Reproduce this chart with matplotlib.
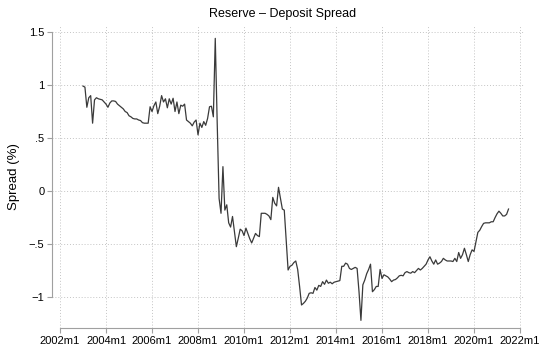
import numpy as np
import matplotlib
matplotlib.use("Agg")
import matplotlib.pyplot as plt

plt.rcParams['font.family'] = ['Liberation Sans', 'DejaVu Sans']

## monthly spread (%), 2003m1 .. 2021m7
y2003 = [0.99, 0.98, 0.79, 0.88, 0.90, 0.64, 0.86, 0.88, 0.87, 0.865, 0.86, 0.84]
y2004 = [0.82, 0.79, 0.83, 0.85, 0.85, 0.845, 0.82, 0.805, 0.79, 0.775, 0.75, 0.74]
y2005 = [0.71, 0.70, 0.685, 0.68, 0.68, 0.67, 0.665, 0.645, 0.64, 0.64, 0.64, 0.795]
y2006 = [0.75, 0.805, 0.84, 0.73, 0.80, 0.90, 0.84, 0.87, 0.785, 0.87, 0.82, 0.875]
y2007 = [0.75, 0.84, 0.73, 0.81, 0.80, 0.82, 0.67, 0.655, 0.64, 0.615, 0.65, 0.67]
y2008 = [0.53, 0.64, 0.60, 0.655, 0.62, 0.685, 0.795, 0.80, 0.70, 1.44, 0.65, -0.07]
y2009 = [-0.21, 0.23, -0.18, -0.13, -0.30, -0.34, -0.24, -0.38, -0.525, -0.445, -0.36, -0.375]
y2010 = [-0.42, -0.35, -0.40, -0.45, -0.49, -0.445, -0.40, -0.42, -0.43, -0.21, -0.21, -0.21]
y2011 = [-0.22, -0.235, -0.27, -0.06, -0.115, -0.14, 0.035, -0.07, -0.17, -0.18, -0.46, -0.745]
y2012 = [-0.71, -0.70, -0.675, -0.66, -0.74, -0.90, -1.075, -1.06, -1.04, -1.01, -0.965, -0.96]
y2013 = [-0.965, -0.91, -0.935, -0.89, -0.90, -0.855, -0.88, -0.84, -0.87, -0.86, -0.875, -0.86]
y2014 = [-0.855, -0.85, -0.845, -0.71, -0.71, -0.68, -0.69, -0.73, -0.74, -0.73, -0.72, -0.73]
y2015 = [-0.95, -1.22, -0.885, -0.84, -0.78, -0.74, -0.69, -0.95, -0.93, -0.90, -0.90, -0.74]
y2016 = [-0.825, -0.79, -0.80, -0.81, -0.83, -0.855, -0.84, -0.835, -0.82, -0.80, -0.795, -0.80]
y2017 = [-0.77, -0.76, -0.77, -0.775, -0.76, -0.77, -0.75, -0.73, -0.745, -0.73, -0.71, -0.69]
y2018 = [-0.65, -0.62, -0.66, -0.69, -0.65, -0.69, -0.68, -0.665, -0.635, -0.65, -0.66, -0.66]
y2019 = [-0.66, -0.665, -0.635, -0.665, -0.58, -0.635, -0.60, -0.54, -0.60, -0.665, -0.60, -0.555]
y2020 = [-0.57, -0.48, -0.39, -0.37, -0.335, -0.305, -0.30, -0.30, -0.30, -0.29, -0.29, -0.25]
y2021 = [-0.215, -0.19, -0.21, -0.235, -0.235, -0.22, -0.17]

spread = np.array(y2003 + y2004 + y2005 + y2006 + y2007 + y2008 + y2009 + y2010
                  + y2011 + y2012 + y2013 + y2014 + y2015 + y2016 + y2017
                  + y2018 + y2019 + y2020 + y2021)
t = 2003 + np.arange(len(spread)) / 12.0

xticks = list(range(2002, 2023, 2))
xlabels = ['%dm1' % yr for yr in xticks]
yticks = [1.5, 1, 0.5, 0, -0.5, -1]
ylabels = ['1.5', '1', '.5', '0', '\u2212.5', '\u22121']

fig = plt.figure(figsize=(5.39, 3.45), dpi=100)
ax = fig.add_axes([0.0965, 0.0493, 0.8757, 0.8782])

ax.plot(t, spread, color='#3a3a3a', lw=0.9)

ax.set_xlim(2002 - 8 / 23.0, 2022 + 4 / 23.0)
ax.set_ylim(-1.292, 1.566)

ax.set_xticks(xticks)
ax.set_xticklabels(xlabels)
ax.set_yticks(yticks)
ax.set_yticklabels(ylabels)

for s in ['top', 'right']:
    ax.spines[s].set_visible(False)
ax.spines['left'].set_bounds(-1, 1.5)
ax.spines['bottom'].set_bounds(2002, 2022)
for s in ['left', 'bottom']:
    ax.spines[s].set_color('#a0a0a0')
    ax.spines[s].set_linewidth(0.8)

ax.tick_params(axis='both', direction='out', length=3.5, width=0.8,
               color='#a0a0a0', labelsize=8, pad=2)
ax.grid(True, linestyle=(0, (1, 2)), color='#c4c4c4', lw=0.7)
ax.set_axisbelow(True)

ax.set_ylabel('Spread (%)', fontsize=9.5, labelpad=6)
fig.text(0.525, 0.958, 'Reserve \u2013 Deposit Spread', ha='center', va='center', fontsize=9)

fig.savefig('out.png', dpi=100)
